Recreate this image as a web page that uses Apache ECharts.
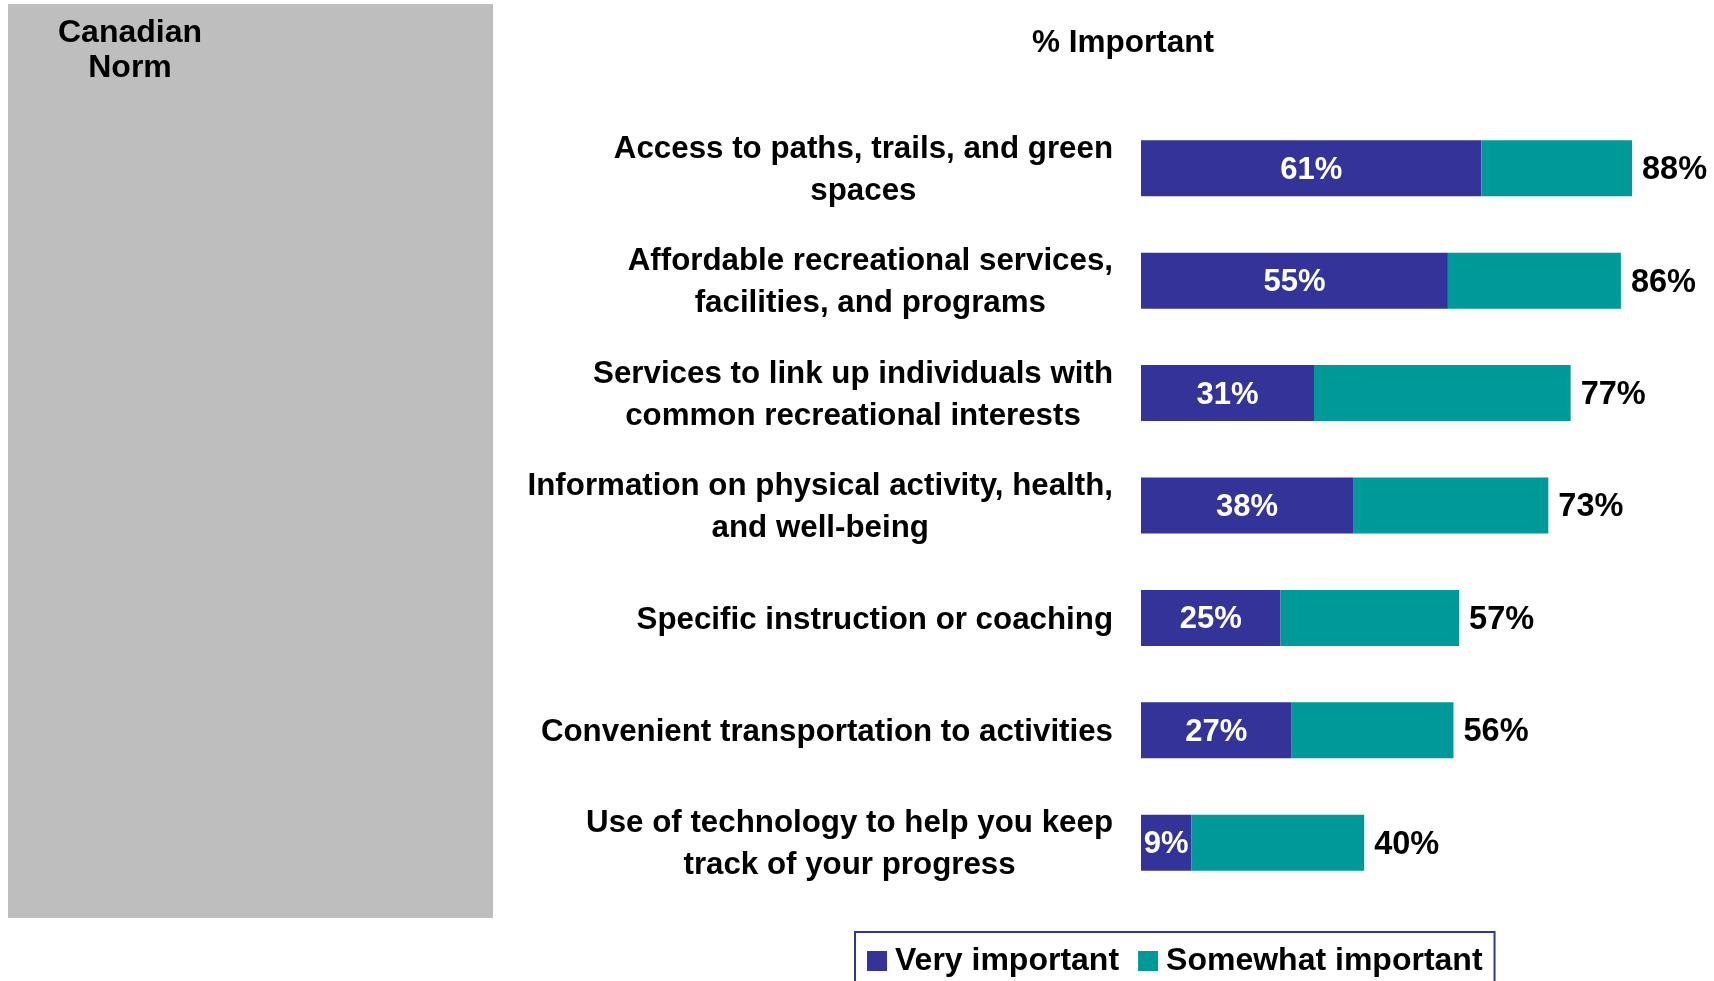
<!DOCTYPE html>
<html>
<head>
<meta charset="utf-8">
<script src="https://cdn.jsdelivr.net/npm/echarts@6/dist/echarts.min.js"></script>
<style>
    html, body { margin: 0; padding: 0; background: #fff; }
    #chart { width: 1714px; height: 981px; }
</style>
</head>
<body>
<div id="chart"></div>
<script>
    var categories = [
        'Access to paths, trails, and green\nspaces',
        'Affordable recreational services,\nfacilities, and programs',
        'Services to link up individuals with\ncommon recreational interests',
        'Information on physical activity, health,\nand well-being',
        'Specific instruction or coaching',
        'Convenient transportation to activities',
        'Use of technology to help you keep\ntrack of your progress'
    ];
    var veryImportant = [61, 55, 31, 38, 25, 27, 9];
    var somewhatImportant = [27, 31, 46, 35, 32, 29, 31];
    var totalImportant = [88, 86, 77, 73, 57, 56, 40];

    var fontFamily = "'Liberation Sans', Arial, sans-serif";
    var chart = echarts.init(document.getElementById('chart'));

    var option = {
        animation: false,
        textStyle: { fontFamily: fontFamily },
        graphic: [
            {
                type: 'rect',
                z: 0,
                silent: true,
                shape: { x: 8, y: 4, width: 485, height: 914 },
                style: { fill: '#bebebe' }
            }
        ],
        title: [
            {
                text: '% Important',
                left: 1123,
                top: 27,
                textAlign: 'center',
                padding: 0,
                textStyle: { fontSize: 31.5, fontWeight: 'bold', color: '#000', fontFamily: fontFamily }
            },
            {
                text: 'Canadian\nNorm',
                left: 130,
                top: 16,
                textAlign: 'center',
                padding: 0,
                textStyle: { fontSize: 32, fontWeight: 'bold', color: '#000', lineHeight: 35, fontFamily: fontFamily }
            }
        ],
        legend: {
            data: ['Very important', 'Somewhat important'],
            left: 855,
            top: 932,
            padding: [13, 12, 11, 12],
            borderColor: '#333399',
            borderWidth: 2,
            icon: 'rect',
            itemWidth: 20,
            itemHeight: 20,
            itemGap: 19,
            textStyle: { fontSize: 32, fontWeight: 'bold', color: '#000', padding: [0, 0, 0, 3], fontFamily: fontFamily }
        },
        grid: {
            left: 1141,
            top: 112,
            width: 558,
            height: 787
        },
        xAxis: {
            type: 'value',
            min: 0,
            max: 100,
            show: false
        },
        yAxis: {
            type: 'category',
            data: categories,
            inverse: true,
            axisLine: { show: false },
            axisTick: { show: false },
            axisLabel: {
                interval: 0,
                margin: 28,
                padding: [4, 0, 0, 0],
                formatter: function (value) {
                    return value.split('\n').map(function (s) {
                        return '{c|' + s + '}';
                    }).join('\n');
                },
                rich: {
                    c: {
                        align: 'center',
                        fontSize: 31.3,
                        fontWeight: 'bold',
                        lineHeight: 42,
                        color: '#000',
                        fontFamily: fontFamily
                    }
                }
            }
        },
        series: [
            {
                name: 'Very important',
                type: 'bar',
                stack: 'imp',
                barWidth: 56,
                itemStyle: { color: '#333399' },
                label: {
                    show: true,
                    position: 'inside',
                    offset: [0, 2],
                    formatter: '{c}%',
                    color: '#fff',
                    fontSize: 31,
                    fontWeight: 'bold',
                    fontFamily: fontFamily
                },
                data: veryImportant
            },
            {
                name: 'Somewhat important',
                type: 'bar',
                stack: 'imp',
                barWidth: 56,
                itemStyle: { color: '#009999' },
                label: {
                    show: true,
                    position: 'right',
                    distance: 10,
                    offset: [0, 2],
                    formatter: function (p) {
                        return totalImportant[p.dataIndex] + '%';
                    },
                    color: '#000',
                    fontSize: 32.5,
                    fontWeight: 'bold',
                    fontFamily: fontFamily
                },
                data: somewhatImportant
            }
        ]
    };

    chart.setOption(option);
</script>
</body>
</html>
